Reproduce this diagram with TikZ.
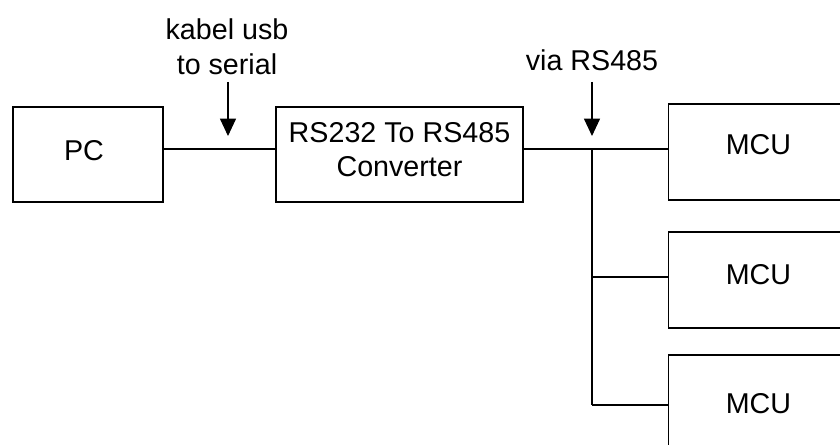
\documentclass[tikz,border=0pt]{standalone}
\usepackage{fontspec}
\setmainfont{Liberation Sans}
\usetikzlibrary{arrows.meta}
\begin{document}
\begin{tikzpicture}[x=0.75pt,y=-0.75pt,
  box/.style={draw=black,line width=0.8pt,rectangle,inner sep=0pt},
  mcubox/.style={box,minimum width=180*0.75pt,minimum height=96*0.75pt},
  lbl/.style={inner sep=0pt,align=center,font=\fontsize{21.5}{26}\selectfont},
  wire/.style={line width=0.8pt},
  pointer/.style={line width=0.8pt,-{Triangle[length=13pt,width=12pt]}}]
\useasboundingbox (0,0) rectangle (840,445);
\clip (0,0) rectangle (840,445);
\fill[white] (0,0) rectangle (840,445);
\node[box,minimum width=150*0.75pt,minimum height=95*0.75pt] (pc) at (88,154.5) {};
\node[lbl] (pctext) at (84,150.7) {PC};
\node[box,minimum width=247*0.75pt,minimum height=95*0.75pt] (conv) at (399.5,154.5) {};
\node[lbl,font=\fontsize{21.5}{25.5}\selectfont] (convtext) at (399.5,150) {RS232 To RS485\\Converter};
\node[mcubox] (m1) at (758.5,152) {};
\node[mcubox] (m2) at (758.5,280) {};
\node[mcubox] (m3) at (758.5,403) {};
\node[lbl] (m1text) at (758.5,145) {MCU};
\node[lbl] (m2text) at (758.5,275) {MCU};
\node[lbl] (m3text) at (758.5,403.7) {MCU};
\node[lbl] (l1) at (227,46.7) {kabel usb\\to serial};
\node[lbl] (l2) at (592,60) {via RS485};
\coordinate (a1) at (228,82);
\coordinate (t1) at (228,136);
\coordinate (a2) at (592,82);
\coordinate (t2) at (592,136);
\coordinate (j1) at (592,149);
\coordinate (j2) at (592,277);
\coordinate (j3) at (592,405);
\draw[wire] (pc.east |- j1) -- (conv.west |- j1);
\draw[wire] (conv.east |- j1) -- (m1.west |- j1);
\draw[wire] (j1) -- (j3);
\draw[wire] (j2) -- (m2.west |- j2);
\draw[wire] (j3) -- (m3.west |- j3);
\draw[pointer] (a1) -- (t1);
\draw[pointer] (a2) -- (t2);
\end{tikzpicture}
\end{document}
